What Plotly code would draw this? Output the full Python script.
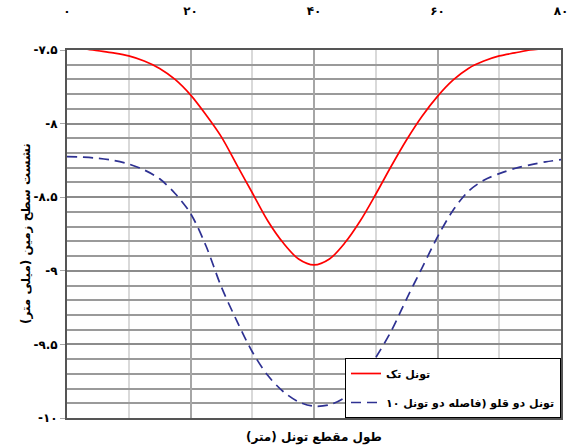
import plotly.graph_objects as go

# Data (x in metres, settlement in mm)
single_x = [0, 2.5, 5, 7.5, 10, 12.5, 15, 17.5, 20, 22.5, 25, 27.5, 30, 32.5, 35, 37.5, 40,
            42.5, 45, 47.5, 50, 52.5, 55, 57.5, 60, 62.5, 65, 67.5, 70, 72.5, 75, 77.5, 80]
single_y = [-7.48, -7.49, -7.505, -7.52, -7.54, -7.575, -7.625, -7.70, -7.805, -7.94, -8.09, -8.28,
            -8.47, -8.66, -8.81, -8.92, -8.96,
            -8.92, -8.81, -8.66, -8.48, -8.29, -8.11, -7.95, -7.815, -7.705, -7.625, -7.575,
            -7.54, -7.52, -7.5, -7.49, -7.48]

twin_x = [0, 2.5, 5, 7.5, 10, 12.5, 15, 17.5, 20, 22.5, 25, 27.5, 30, 32.5, 35, 37.5, 40,
          42.5, 45, 47.5, 50, 52.5, 55, 57.5, 60, 62.5, 65, 67.5, 70, 72.5, 75, 77.5, 80]
twin_y = [-8.224, -8.228, -8.235, -8.25, -8.275, -8.315, -8.375, -8.475, -8.61, -8.83, -9.11, -9.34,
          -9.55, -9.71, -9.82, -9.89, -9.92,
          -9.91, -9.86, -9.75, -9.59, -9.41, -9.19, -8.98, -8.77, -8.59, -8.46, -8.385,
          -8.34, -8.305, -8.28, -8.26, -8.245]

x_tickvals = [0, 20, 40, 60, 80]
x_ticktext = ["۰", "۲۰", "۴۰", "۶۰", "۸۰"]
y_tickvals = [-7.5, -8, -8.5, -9, -9.5, -10]
y_ticktext = ["-۷.۵", "-۸", "-۸.۵", "-۹", "-۹.۵", "-۱۰"]

name_single = "تونل تک"
name_twin = "تونل دو قلو (فاصله دو تونل ۱۰"
x_title = "طول مقطع تونل (متر)"
y_title = "نشست سطح زمین (میلی متر)"

FONT = "DejaVu Sans"

fig = go.Figure()
fig.add_trace(go.Scatter(x=single_x, y=single_y, mode="lines", name=name_single, legendgroup="a",
                         line=dict(color="#ff0000", width=1.7, shape="spline", smoothing=0.9)))
fig.add_trace(go.Scatter(x=twin_x, y=twin_y, mode="lines", name=name_twin, legendgroup="b",
                         line=dict(color="#2e3192", width=1.7, dash="10px,6px",
                                   shape="spline", smoothing=0.9)))

fig.update_layout(
    width=574, height=446, autosize=False,
    margin=dict(l=67, r=13, t=50, b=28),
    paper_bgcolor="white", plot_bgcolor="white",
    font=dict(family=FONT, size=12, color="black"),
    showlegend=True,
    legend=dict(x=1, y=0, xanchor="right", yanchor="bottom",
                bgcolor="white", bordercolor="black", borderwidth=1,
                font=dict(family=FONT, size=11, color="black", weight="bold"),
                tracegroupgap=10, itemwidth=30),
    xaxis=dict(
        side="top", range=[0, 80], autorange=False, automargin=False,
        tickmode="array", tickvals=x_tickvals, ticktext=x_ticktext,
        tickfont=dict(family=FONT, size=12, weight="bold"),
        ticks="outside", ticklen=28, tickcolor="rgba(0,0,0,0)",
        showgrid=True, gridcolor="#a6a6a6", gridwidth=1.5,
        minor=dict(tickmode="array", tickvals=[10, 30, 50, 70], showgrid=True,
                   gridcolor="#d9d9d9", gridwidth=1.5, ticks=""),
        showline=True, linecolor="#555555", linewidth=2, mirror=True,
        zeroline=False,
    ),
    yaxis=dict(
        range=[-10, -7.5], autorange=False, automargin=False,
        tickmode="array", tickvals=y_tickvals, ticktext=y_ticktext,
        tickfont=dict(family=FONT, size=12, weight="bold"),
        ticks="outside", ticklen=5, tickcolor="#a6a6a6",
        showgrid=True, gridcolor="#8c8c8c", gridwidth=1.5,
        minor=dict(dtick=0.1, showgrid=True, gridcolor="#9a9a9a", gridwidth=1.5),
        showline=True, linecolor="#555555", linewidth=2, mirror=True,
        zeroline=False,
    ),
)

fig.add_annotation(text=x_title, xref="paper", yref="paper", x=0.5, y=0, yshift=-19,
                   showarrow=False, font=dict(family=FONT, size=12, weight="bold"),
                   xanchor="center", yanchor="middle")
fig.add_annotation(text=y_title, xref="paper", yref="paper", x=0, y=0.5, xshift=-41,
                   showarrow=False, textangle=-90, font=dict(family=FONT, size=12, weight="bold"),
                   xanchor="center", yanchor="middle")

fig.write_html("out.html", config={"displayModeBar": False},
               post_script="document.body.style.margin='0';document.body.style.overflow='hidden';")
